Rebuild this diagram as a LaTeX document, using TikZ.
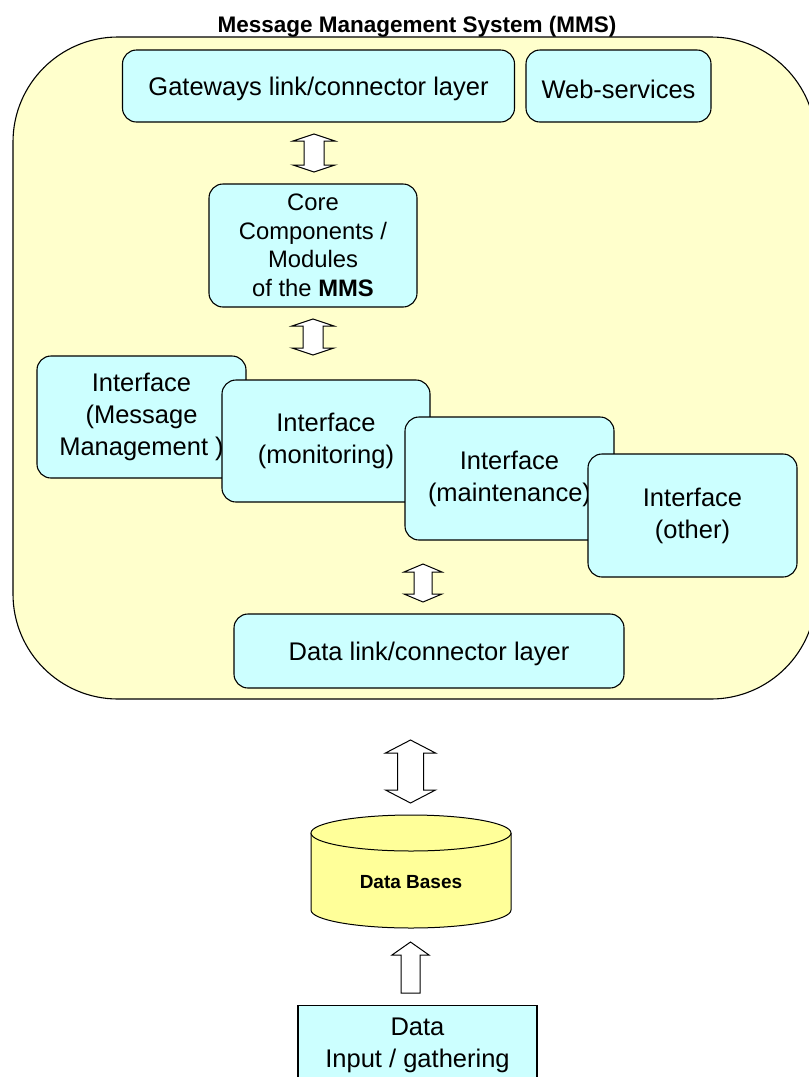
\documentclass[tikz,border=0pt]{standalone}
\usepackage{fontspec}
\setmainfont{Liberation Sans}
\definecolor{boxcyan}{HTML}{CCFFFF}
\definecolor{mmsyellow}{HTML}{FFFFCC}
\definecolor{dbyellow}{HTML}{FFFF99}
\tikzset{
  mmsbox/.style={draw=black, line width=1.1pt, fill=mmsyellow, rounded corners=105pt, inner sep=0pt},
  box/.style={draw=black, line width=1.1pt, fill=boxcyan, rounded corners=14pt, align=center, inner sep=0pt,
              font=\fontsize{25.5}{32}\selectfont},
  corebox/.style={box, font=\fontsize{23.8}{28.5}\selectfont},
  plainbox/.style={box, sharp corners},
  blk/.style={draw=black, line width=1pt, fill=white, line join=miter},
  dbline/.style={draw=black, line width=1pt},
  titletext/.style={font=\bfseries\fontsize{22.5}{27}\selectfont},
  dbtext/.style={font=\bfseries\fontsize{19}{23}\selectfont}
}
\newcommand\lowered[1]{\raisebox{-3pt}[\height][\depth]{#1}}
% double block arrow: x, top tip, bottom tip, head half width, shaft half width, head height
\newcommand\blkdarrow[6]{%
  \draw[blk] (#1,#2) -- ({#1+#4},{#2+#6}) -- ({#1+#5},{#2+#6}) -- ({#1+#5},{#3-#6})
    -- ({#1+#4},{#3-#6}) -- (#1,#3) -- ({#1-#4},{#3-#6}) -- ({#1-#5},{#3-#6})
    -- ({#1-#5},{#2+#6}) -- ({#1-#4},{#2+#6}) -- cycle;}
% up block arrow: x, tip, bottom, head half width, shaft half width, head height
\newcommand\blkuarrow[6]{%
  \draw[blk] (#1,#2) -- ({#1+#4},{#2+#6}) -- ({#1+#5},{#2+#6}) -- ({#1+#5},#3)
    -- ({#1-#5},#3) -- ({#1-#5},{#2+#6}) -- ({#1-#4},{#2+#6}) -- cycle;}
\begin{document}
\begin{tikzpicture}[x=1pt,y=-1pt]
\useasboundingbox (0,0) rectangle (809,1077);

% title and system frame
\node[titletext] (title) at (417,26.5) {Message Management System (MMS)};
\node[mmsbox, minimum width=803, minimum height=662] (mms) at (414.5,368) {};

% top layer
\node[box, minimum width=392, minimum height=72] (gw) at (318.5,86) {\lowered{Gateways link/connector layer}};
\node[box, minimum width=185, minimum height=72] (ws) at (618.5,86) {\lowered{Web-services}};

% core
\node[corebox, minimum width=208, minimum height=123] (core) at (313,245.5)
  {Core\\Components /\\Modules\\of the \textbf{MMS}};

% interfaces (stacked)
\node[box, minimum width=209, minimum height=122] (msg) at (141.5,417) {Interface\\(Message\\Management )};
\node[box, minimum width=208, minimum height=122] (mon) at (326,441) {Interface\\(monitoring)};
\node[box, minimum width=209, minimum height=123] (mnt) at (509.5,478.5) {Interface\\(maintenance)};
\node[box, minimum width=209, minimum height=123] (oth) at (692.5,515.5) {Interface\\(other)};

% data link layer
\node[box, minimum width=390, minimum height=74] (dl) at (429,651) {\lowered{Data link/connector layer}};

% block arrows inside the frame
\blkdarrow{314}{134}{172}{21}{10}{7}
\blkdarrow{313}{319}{355}{21}{10}{7}
\blkdarrow{423}{564}{602}{19}{9}{8}

% arrow to the database
\blkdarrow{410.5}{740}{803}{25}{13}{13}

% database cylinder
\fill[dbyellow] (311,833) -- (311,910) .. controls (311,919.9) and (355.8,928) .. (411,928)
  .. controls (466.2,928) and (511,919.9) .. (511,910) -- (511,833) -- cycle;
\draw[dbline] (311,833) -- (311,910) .. controls (311,919.9) and (355.8,928) .. (411,928)
  .. controls (466.2,928) and (511,919.9) .. (511,910) -- (511,833);
\draw[dbline, fill=dbyellow] (411,833) ellipse [x radius=100, y radius=18];
\node[dbtext] (db) at (411,882) {Data Bases};

% input arrow and box
\blkuarrow{410.5}{942}{993}{18.5}{9.5}{13}
\node[plainbox, anchor=north, minimum width=239, minimum height=80] (inp) at (417.5,1005)
  {Data\\Input / gathering};
\end{tikzpicture}
\end{document}
